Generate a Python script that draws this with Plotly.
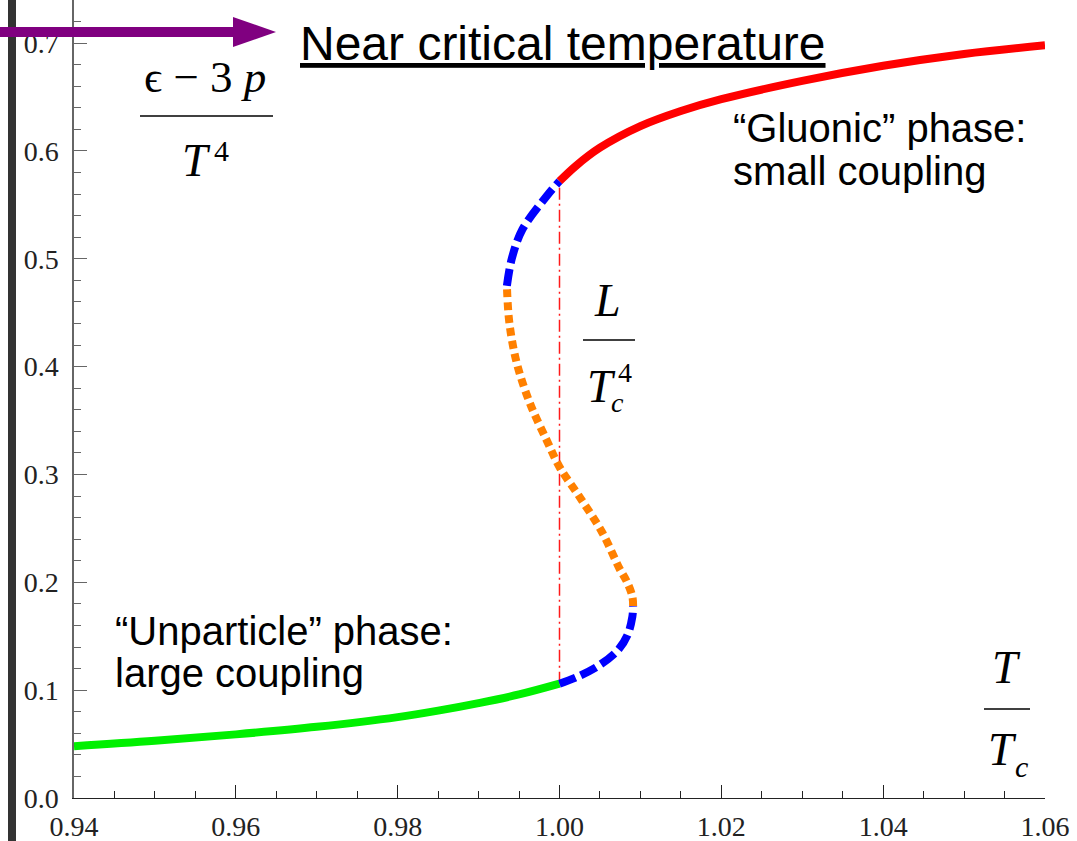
import plotly.graph_objects as go

# ---------------- data ----------------
green_T = [0.94, 0.95, 0.96, 0.97, 0.98, 0.985, 0.99, 0.995, 1.00]
green_L = [0.048, 0.053, 0.059, 0.066, 0.075, 0.081, 0.088, 0.096, 0.106]

blue_lo_T = [1.000, 1.0021, 1.0049, 1.0072, 1.0084, 1.0090, 1.0091]
blue_lo_L = [0.106, 0.112, 0.123, 0.137, 0.151, 0.168, 0.178]

orange_T = [1.0091, 1.0090, 1.0083, 1.0074, 1.0053, 1.0025, 1.0000, 0.9984, 0.9963, 0.9947, 0.9938, 0.9935]
orange_L = [0.178, 0.187, 0.201, 0.213, 0.246, 0.279, 0.307, 0.332, 0.367, 0.404, 0.441, 0.475]

blue_hi_T = [0.9935, 0.9941, 0.9954, 0.9984, 1.0000]
blue_hi_L = [0.475, 0.500, 0.527, 0.558, 0.572]

red_T = [1.000, 1.002, 1.005, 1.010, 1.015, 1.020, 1.030, 1.040, 1.050, 1.060]
red_L = [0.572, 0.586, 0.603, 0.623, 0.637, 0.648, 0.665, 0.679, 0.690, 0.698]

x_ticks = [0.94, 0.96, 0.98, 1.00, 1.02, 1.04, 1.06]
y_ticks = [0.0, 0.1, 0.2, 0.3, 0.4, 0.5, 0.6, 0.7]

# ---------------- layout geometry ----------------
W, H = 1077, 841
ML, MR, MT, MB = 74, 32, 0, 43
PW, PH = W - ML - MR, H - MT - MB


def px(x):
    return (x - ML) / PW


def py(y):
    return (H - MB - y) / PH


fig = go.Figure()

# vertical dash-dot line at T/Tc = 1 (latent heat)
fig.add_trace(go.Scatter(x=[green_T[-1], red_T[0]], y=[green_L[-1], red_L[0]], mode="lines",
                         line=dict(color="#FF1A1A", width=1.5, dash="12px,4px,2px,4px"),
                         hoverinfo="skip"))

fig.add_trace(go.Scatter(x=green_T, y=green_L, mode="lines", line_shape="spline",
                         line=dict(color="#00F000", width=8)))
fig.add_trace(go.Scatter(x=blue_lo_T, y=blue_lo_L, mode="lines", line_shape="spline",
                         line=dict(color="#0000FF", width=8, dash="17px,6px")))
fig.add_trace(go.Scatter(x=orange_T, y=orange_L, mode="lines", line_shape="spline",
                         line=dict(color="#FF8000", width=8, dash="8px,5px")))
fig.add_trace(go.Scatter(x=blue_hi_T, y=blue_hi_L, mode="lines", line_shape="spline",
                         line=dict(color="#0000FF", width=8, dash="17px,6px")))
fig.add_trace(go.Scatter(x=red_T, y=red_L, mode="lines", line_shape="spline",
                         line=dict(color="#FF0000", width=8)))

serif = "Liberation Serif"
sans = "Liberation Sans"

shapes = []
# dark slide bar on the left
shapes.append(dict(type="rect", xref="paper", yref="paper", x0=px(8), x1=px(16), y0=py(H), y1=py(0),
                   fillcolor="#333333", line=dict(width=0), layer="above"))
# purple arrow
shapes.append(dict(type="rect", xref="paper", yref="paper", x0=px(0), x1=px(236), y0=py(37), y1=py(27),
                   fillcolor="#800080", line=dict(width=0), layer="above"))
shapes.append(dict(type="path", xref="paper", yref="paper",
                   path=f"M {px(233)},{py(17)} L {px(276)},{py(32)} L {px(233)},{py(47)} Z",
                   fillcolor="#800080", line=dict(width=0), layer="above"))
# fraction bars
for (xa, xb, yy) in [(140, 273, 116), (583, 635, 340), (984, 1030, 709)]:
    shapes.append(dict(type="line", xref="paper", yref="paper", x0=px(xa), x1=px(xb), y0=py(yy), y1=py(yy),
                       line=dict(color="black", width=1.6), layer="above"))

ann = []


def text(t, x, y, size, family, xanchor="center", color="black"):
    ann.append(dict(text=t, x=px(x), y=py(y), xref="paper", yref="paper", xanchor=xanchor, yanchor="middle",
                    showarrow=False, font=dict(family=family, size=size, color=color)))


text("<u>Near critical temperature</u>", 298, 43, 48, sans, xanchor="left")
text("“Gluonic” phase:", 731, 128, 40, sans, xanchor="left")
text("small coupling", 731, 171, 40, sans, xanchor="left")
text("“Unparticle” phase:", 113, 631, 40, sans, xanchor="left")
text("large coupling", 113, 673, 40, sans, xanchor="left")

# y label  (ϵ − 3p)/T^4
text("ϵ − 3 <i>p</i>", 205, 77, 45, serif)
text("<i>T</i>", 196, 160, 46, serif)
text("4", 221, 150, 30, serif)
# L / Tc^4
text("<i>L</i>", 607, 300, 46, serif)
text("<i>T</i>", 601, 386, 46, serif)
text("4", 625, 372, 28, serif)
text("<i>c</i>", 617, 402, 28, serif)
# T / Tc
text("<i>T</i>", 1006, 667, 46, serif)
text("<i>T</i>", 1002, 749, 46, serif)
text("<i>c</i>", 1021, 766, 30, serif)

fig.update_layout(
    width=W, height=H, margin=dict(l=ML, r=MR, t=MT, b=MB, pad=0),
    paper_bgcolor="white", plot_bgcolor="white", showlegend=False,
    shapes=shapes, annotations=ann,
    xaxis=dict(range=[0.94, 1.06], tickvals=x_ticks, ticktext=[f"{v:.2f}" for v in x_ticks],
               ticks="inside", ticklen=13, tickwidth=1, tickcolor="#222",
               showline=True, linecolor="#222", linewidth=1.2, showgrid=False, zeroline=False,
               minor=dict(dtick=0.005, ticks="inside", ticklen=7, tickcolor="#222", showgrid=False),
               tickfont=dict(family=serif, size=28, color="#222"), ticklabelstandoff=3),
    yaxis=dict(range=[0, 0.74], tickvals=y_ticks, ticktext=[f"{v:.1f}" for v in y_ticks],
               ticks="inside", ticklen=13, tickwidth=1, tickcolor="#666",
               showline=True, linecolor="#666", linewidth=1.5, showgrid=False, zeroline=False,
               minor=dict(dtick=0.02, ticks="inside", ticklen=7, tickcolor="#666", showgrid=False),
               tickfont=dict(family=serif, size=28, color="#222"), ticklabelstandoff=8),
)

fig.write_html("out.html")
